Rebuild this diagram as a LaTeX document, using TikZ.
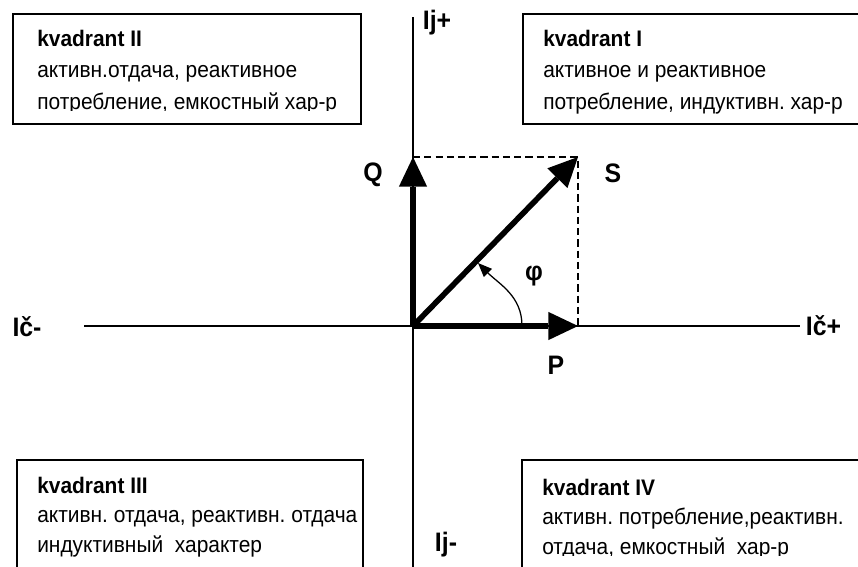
\documentclass[tikz,border=0pt]{standalone}
\usepackage{fontspec}
\setmainfont{Liberation Sans}[FakeStretch=0.93]
\usetikzlibrary{arrows.meta, positioning, fit}
\frenchspacing

\begin{document}
\begin{tikzpicture}[
    x=0.025cm, y=-0.025cm,
    axis/.style={line width=1pt},
    vec/.style={line width=4pt, -{Triangle[length=21pt, width=20pt, line width=0pt]}},
    proj/.style={dash pattern=on 5pt off 3pt, line width=0.8pt},
    angarrow/.style={line width=0.9pt, -{Triangle[length=10pt, width=8pt]}},
    quad/.style={rectangle, draw, line width=1.2pt, inner sep=0pt},
    quadtext/.style={anchor=north west, align=left, inner sep=0pt, font=\fontsize{16}{21}\selectfont},
    quadtop/.style={quadtext, font=\fontsize{16}{22.4}\selectfont},
    lab/.style={font=\bfseries\fontsize{19}{19}\selectfont, inner sep=0pt}
  ]
  \useasboundingbox (0,0) rectangle (858,567);

  % ============ AXES ============
  \coordinate (O) at (413,326);
  \coordinate (xl) at (84,326);
  \coordinate (xr) at (800,326);
  \coordinate (yt) at (413,17);
  \coordinate (yb) at (413,575);

  \draw[axis] (xl) -- (xr);
  \draw[axis] (yt) -- (yb);

  \node[lab] (icm) at (27,327) {Ič-};
  \node[lab, right=4pt of xr] (icp) {Ič+};
  \node[lab] (ijp) at (437,23) {Ij+};
  \node[lab] (ijm) at (446,545) {Ij-};

  % ============ POWER TRIANGLE ============
  \coordinate (Pt) at (578,326);
  \coordinate (Qt) at (413,157);
  \coordinate (St) at (578,157);

  \draw[proj] (Qt) -- (St) -- (Pt);
  \draw[vec] (O) -- (Pt);
  \draw[vec] (O) -- (Qt);
  \draw[vec] (O) -- (St);

  \node[lab] (P) at (556,365) {P};
  \node[lab] (Q) at (373,175) {Q};
  \node[lab] (S) at (613,173) {S};

  % angle
  \coordinate (phiA) at (522,326);
  \coordinate (phiB) at (478,263);
  \draw[angarrow] (phiA) to[out=90, in=-45] (phiB);
  \node[lab] (phi) at (534,276) {φ};

  % ============ QUADRANTS ============
  \node[quad, fit={(13,14) (361,124)}] (q2) {};
  \node[quad, fit={(523,14) (875,124)}] (q1) {};
  \node[quad, fit={(17,460) (363,590)}] (q3) {};
  \node[quad, fit={(522,460) (875,590)}] (q4) {};

  \begin{scope}
    \clip (13,14) rectangle (361,110.8);
    \node[quadtop] (q2t) at (37,29.6) {\textbf{kvadrant II}\\активн.отдача, реактивное\\потребление, емкостный хар-р};
  \end{scope}
  \node[quadtop] (q1t) at (543,29.6) {\textbf{kvadrant I}\\активное и реактивное\\потребление, индуктивн. хар-р};
  \node[quadtext] (q3t) at (37,476.6) {\textbf{kvadrant III}\\активн. отдача, реактивн. отдача\\индуктивный\ \ характер};
  \begin{scope}
    \clip (522,460) rectangle (858,555.5);
    \node[quadtext] (q4t) at (542,478.6) {\textbf{kvadrant IV}\\активн. потребление,реактивн.\\отдача, емкостный\ \ хар-р};
  \end{scope}

\end{tikzpicture}
\end{document}
